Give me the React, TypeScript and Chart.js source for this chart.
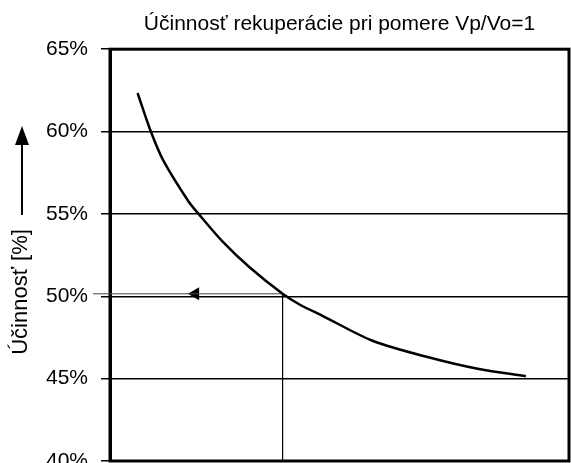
import React, { useEffect, useRef } from "react";
import { Chart, registerables } from "chart.js";

Chart.register(...registerables);

// Data (x axis has no visible labels; arbitrary 0–100 units)
const xValues = [6.0, 8.9, 11.6, 17.0, 19.3, 24.6, 30.4, 37.6, 41.3, 46.4, 57.2, 69.6, 80.4, 90.6];
const efficiency = [62.34, 60.0, 58.25, 55.8, 55.0, 53.3, 51.76, 50.15, 49.5, 48.8, 47.3, 46.28, 45.58, 45.15];

const yMin = 40;
const yMax = 65;
const yStep = 5;

// Read-off marker (Vp/Vo = 1 operating point)
const markerX = 37.6;
const markerY = 50.15;
const markerLineStartX = -3.7;
const markerArrowX = 18.6;

const titleText = "Účinnosť rekuperácie pri pomere Vp/Vo=1";
const yTitleText = "Účinnosť [%]";

const FONT = "'Liberation Sans', Arial, sans-serif";

const framePlugin = {
  id: "frame",
  beforeDatasetsDraw(chart: any) {
    const { ctx, chartArea } = chart;
    ctx.save();
    ctx.strokeStyle = "#000";
    ctx.lineWidth = 3;
    ctx.strokeRect(chartArea.left, chartArea.top, chartArea.right - chartArea.left, chartArea.bottom - chartArea.top);
    ctx.restore();
  },
};

const yTitlePlugin = {
  id: "yTitleArrow",
  afterDraw(chart: any) {
    const { ctx } = chart;
    const cx = 21;
    const textCenterY = 292;
    ctx.save();
    ctx.translate(cx, textCenterY);
    ctx.rotate(-Math.PI / 2);
    ctx.font = `22px ${FONT}`;
    ctx.fillStyle = "#000";
    ctx.textAlign = "center";
    ctx.textBaseline = "middle";
    ctx.fillText(yTitleText, 0, 0);
    ctx.restore();

    // arrow pointing up
    ctx.save();
    ctx.strokeStyle = "#000";
    ctx.fillStyle = "#000";
    ctx.lineWidth = 2;
    ctx.beginPath();
    ctx.moveTo(22, 215);
    ctx.lineTo(22, 140);
    ctx.stroke();
    ctx.beginPath();
    ctx.moveTo(22, 126);
    ctx.lineTo(15, 145);
    ctx.lineTo(29, 145);
    ctx.closePath();
    ctx.fill();
    ctx.restore();
  },
};

export default function App() {
  const ref = useRef<HTMLCanvasElement>(null);

  useEffect(() => {
    if (!ref.current) return;
    const chart = new Chart(ref.current, {
      type: "line",
      data: {
        datasets: [
          {
            data: xValues.map((x, i) => ({ x, y: efficiency[i] })),
            borderColor: "#000",
            borderWidth: 2.5,
            pointRadius: 0,
            tension: 0.3,
            fill: false,
          },
          {
            data: [
              { x: markerX, y: markerY },
              { x: markerX, y: yMin },
            ],
            borderColor: "#000",
            borderWidth: 1,
            pointRadius: 0,
            fill: false,
          },
          {
            data: [
              { x: markerX, y: markerY },
              { x: markerLineStartX, y: markerY },
            ],
            borderColor: "#444",
            borderWidth: 1,
            pointRadius: 0,
            fill: false,
            clip: false as any,
          },
          {
            data: [{ x: markerArrowX, y: markerY }],
            showLine: false,
            pointStyle: "triangle",
            rotation: -90,
            pointRadius: 7.5,
            backgroundColor: "#000",
            borderColor: "#000",
            borderWidth: 0,
          },
        ],
      },
      options: {
        animation: false,
        responsive: false,
        devicePixelRatio: 1,
        layout: { autoPadding: false, padding: { left: 0, right: 2, top: 0, bottom: 29 } },
        plugins: {
          legend: { display: false },
          tooltip: { enabled: false },
          title: {
            display: true,
            text: titleText,
            fullSize: false,
            color: "#000",
            font: { family: FONT, size: 21, weight: "normal", lineHeight: 1.2 },
            padding: { top: 12, bottom: 12 },
          },
        },
        scales: {
          x: {
            type: "linear",
            min: 0,
            max: 100,
            display: false,
          },
          y: {
            min: yMin,
            max: yMax,
            afterFit(scale: any) {
              scale.width = 110;
            },
            ticks: {
              stepSize: yStep,
              padding: 13,
              color: "#000",
              font: { family: FONT, size: 21 },
              callback: (v: any) => `${v}%`,
            },
            grid: {
              color: "#000",
              lineWidth: 1.5,
              tickLength: 9,
              drawTicks: true,
            },
            border: { display: true, color: "#000", width: 3 },
          },
        },
      },
      plugins: [framePlugin, yTitlePlugin],
    });
    return () => chart.destroy();
  }, []);

  return (
    <div style={{ position: "absolute", left: 0, top: 0, width: 571, height: 490, background: "#fff" }}>
      <canvas ref={ref} width={571} height={490} style={{ display: "block" }} />
    </div>
  );
}
